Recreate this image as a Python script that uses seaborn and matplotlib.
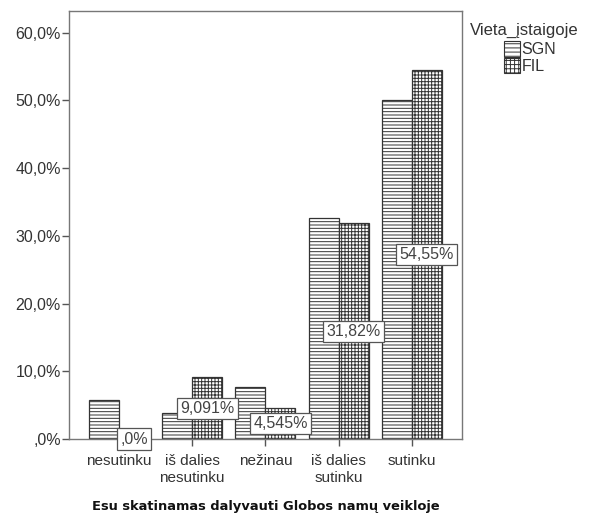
import pandas as pd
import matplotlib.pyplot as plt
import seaborn as sns
from matplotlib.patches import Patch

# Data
categories = ['nesutinku', 'iš dalies\nnesutinku', 'nežinau', 'iš dalies\nsutinku', 'sutinku']
sgn_pct = [5.77, 3.85, 7.69, 32.69, 50.0]
fil_pct = [0.0, 9.091, 4.545, 31.82, 54.55]
fil_labels = [',0%', '9,091%', '4,545%', '31,82%', '54,55%']
groups = ['SGN', 'FIL']
ytick_vals = [0, 10, 20, 30, 40, 50, 60]
ytick_labels = [',0%', '10,0%', '20,0%', '30,0%', '40,0%', '50,0%', '60,0%']

df = pd.DataFrame({
    'kategorija': categories * 2,
    'Vieta_įstaigoje': ['SGN'] * 5 + ['FIL'] * 5,
    'procentai': sgn_pct + fil_pct,
})

sns.set_theme(style='white')
plt.rcParams['font.family'] = ['Liberation Sans', 'DejaVu Sans']
plt.rcParams['hatch.linewidth'] = 0.7

fig = plt.figure(figsize=(5.92, 5.19), dpi=100)
ax = fig.add_axes([0.1166, 0.154, 0.6634, 0.825])

sns.barplot(data=df, x='kategorija', y='procentai', hue='Vieta_įstaigoje',
            order=categories, hue_order=groups, palette=['white', 'white'],
            width=0.82, gap=0, edgecolor='#333333', linewidth=0.9,
            legend=False, ax=ax)

hatches = ['-----', '+++++']
for cont, h in zip(ax.containers, hatches):
    for bar in cont:
        bar.set_hatch(h)

# value labels for FIL in the middle of the bar
for bar, val, lab in zip(ax.containers[1], fil_pct, fil_labels):
    cx = bar.get_x() + bar.get_width() / 2
    ax.text(cx, val / 2, lab, ha='center', va='center', fontsize=11.5, color='#444444',
            bbox=dict(boxstyle='square,pad=0.2', facecolor='white', edgecolor='#555555', linewidth=0.9),
            zorder=5)

ax.set_xlim(-0.685, 4.685)
ax.set_ylim(0, 63.2)
ax.set_yticks(ytick_vals)
ax.set_yticklabels(ytick_labels)
ax.tick_params(axis='both', which='major', direction='out', length=5, width=1,
               color='#555555', labelcolor='#333333', left=True, bottom=True)
ax.tick_params(axis='y', labelsize=11.5, pad=1)
ax.tick_params(axis='x', labelsize=11, pad=6)
for s in ax.spines.values():
    s.set_color('#777777')
    s.set_linewidth(1.0)

ax.set_ylabel('')
ax.set_xlabel('Esu skatinamas dalyvauti Globos namų veikloje', fontsize=9.4,
              fontweight='bold', family='DejaVu Sans', color='#111111', labelpad=11)

# legend
fig.text(0.793, 0.942, 'Vieta_įstaigoje', fontsize=12, color='#333333', ha='left', va='center')
handles = [Patch(facecolor='white', edgecolor='#333333', hatch=h, label=g, linewidth=0.8)
           for g, h in zip(groups, ['----', '++++'])]
fig.legend(handles=handles, loc='upper left', bbox_to_anchor=(0.838, 0.936), frameon=False,
           fontsize=11.5, handlelength=1.0, handleheight=1.1, handletextpad=0.1,
           labelspacing=0.05, borderpad=0, labelcolor='#333333')

fig.savefig('out.png', dpi=100, facecolor='white')
